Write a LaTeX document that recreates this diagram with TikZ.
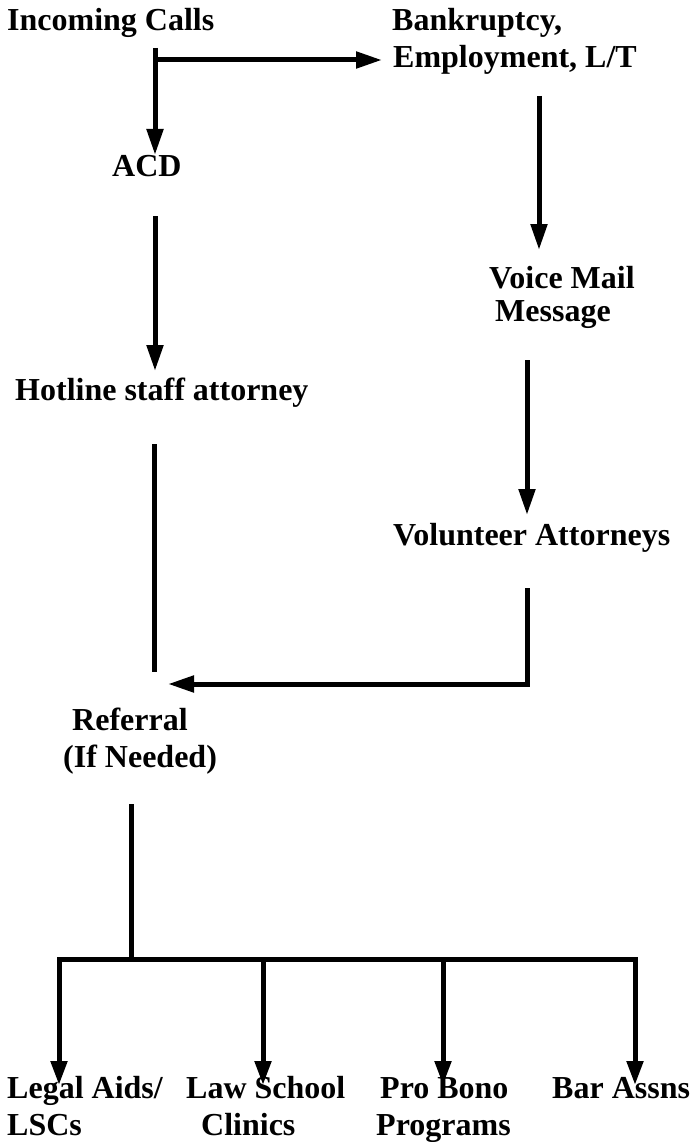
\documentclass[tikz,border=0pt]{standalone}
\usepackage{fontspec}
\setmainfont{Liberation Serif}
\usetikzlibrary{arrows.meta}
\begin{document}
\begin{tikzpicture}[x=1pt,y=-1pt,
  lbl/.style={anchor=base west,inner sep=0pt,font=\fontsize{32}{37}\selectfont\bfseries},
  conn/.style={line width=5pt,line join=miter},
  arr/.style={conn,-{Triangle[length=26pt,width=16pt]}}]
\useasboundingbox (0,0) rectangle (693,1142);
% labels
\node[lbl] (inc) at (7,31) {Incoming Calls};
\node[lbl] (bk1) at (392,31) {Bankruptcy,};
\node[lbl] (bk2) at (393,68) {Employment, L/T};
\node[lbl] (acd) at (112,177) {ACD};
\node[lbl] (vm1) at (489,288) {Voice Mail};
\node[lbl] (vm2) at (495,321) {Message};
\node[lbl] (hot) at (15,400) {Hotline staff attorney};
\node[lbl] (vol) at (393,545) {Volunteer Attorneys};
\node[lbl] (ref1) at (72,730) {Referral};
\node[lbl] (ref2) at (63,767) {(If Needed)};
\node[lbl] (la1) at (7,1098) {Legal Aids/};
\node[lbl] (la2) at (7,1135) {LSCs};
\node[lbl] (ls1) at (186,1098) {Law School};
\node[lbl] (ls2) at (201,1135) {Clinics};
\node[lbl] (pb1) at (380,1098) {Pro Bono};
\node[lbl] (pb2) at (376,1135) {Programs};
\node[lbl] (ba) at (552,1098) {Bar Assns};
% connector end points
\coordinate (incS) at (155,48);
\coordinate (incJ) at (155,60);
\coordinate (acdN) at (155,155);
\coordinate (bkW) at (382,60);
\coordinate (bkS) at (539,96);
\coordinate (vmN) at (539,250);
\coordinate (acdS) at (155,216);
\coordinate (hotN) at (155,371);
\coordinate (vmS) at (527,360);
\coordinate (volN) at (527,515);
\coordinate (hotS) at (154,444);
\coordinate (hotE) at (154,672);
\coordinate (volS) at (527,588);
\coordinate (volC) at (527,684);
\coordinate (refE) at (168,684);
\coordinate (refS) at (131,804);
\coordinate (busM) at (131,959);
\coordinate (busL) at (59,959);
\coordinate (busR) at (635,959);
\coordinate (b2) at (263,959);
\coordinate (b3) at (443,959);
\coordinate (laN) at (59,1085);
\coordinate (lsN) at (263,1085);
\coordinate (pbN) at (443,1085);
\coordinate (baN) at (635,1085);
% connectors
\draw[arr] (incS) -- (acdN);
\draw[arr] (incJ) -- (bkW);
\draw[arr] (bkS) -- (vmN);
\draw[arr] (acdS) -- (hotN);
\draw[arr] (vmS) -- (volN);
\draw[conn] (hotS) -- (hotE);
\draw[arr] (volS) -- (volC) -- (refE);
\draw[conn] (refS) -- (busM);
\draw[conn,{Triangle[length=24pt,width=16pt]}-{Triangle[length=24pt,width=16pt]}] (laN) -- (busL) -- (busR) -- (baN);
\draw[conn,-{Triangle[length=24pt,width=16pt]}] (b2) -- (lsN);
\draw[conn,-{Triangle[length=24pt,width=16pt]}] (b3) -- (pbN);
\end{tikzpicture}
\end{document}
